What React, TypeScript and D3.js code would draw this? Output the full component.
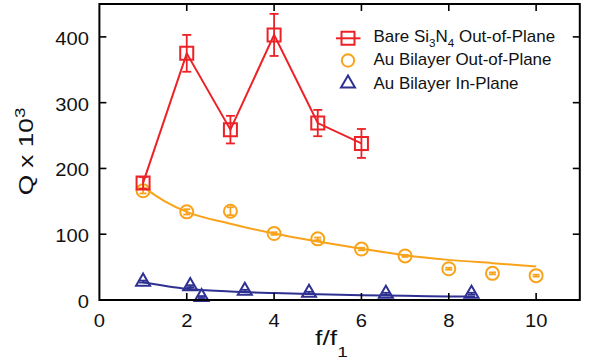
import * as d3 from "d3";

// Bare Si3N4, out-of-plane
const bareF = [1, 2, 3, 4, 5, 6];
const bareQ = [178, 375, 259, 403, 269, 238];
const bareErr = [9, 28, 21, 32, 20, 22];

// Au bilayer, out-of-plane
const outF = [1, 2, 3, 4, 5, 6, 7, 8, 9, 10];
const outQ = [166, 134, 135, 101, 93, 77.5, 67, 47.5, 40.5, 37];
const outErr = [4, 4, 6, 2, 2, 2, 1.5, 1.5, 1.5, 1.5];
const outFitF = [1, 1.5, 2, 3, 4, 5, 6, 7, 8, 9, 10];
const outFitQ = [172, 150, 134, 116, 101, 89, 78, 68, 61, 56, 51];

// Au bilayer, in-plane
const inF = [1, 2.08, 2.34, 3.33, 4.8, 6.56, 8.52];
const inQ = [28, 21, 4.5, 14, 11, 9.5, 9.5];
const inErr = [1.5, 1.5, 1.5, 1.5, 1.5, 1.5, 1.5];
const inFitF = [1, 2, 3, 4, 5, 6, 7, 8, 8.6];
const inFitQ = [27, 17, 13, 10.5, 8.6, 7.3, 6.3, 5.5, 5];

const xTicks = [0, 2, 4, 6, 8, 10];
const yTicks = [0, 100, 200, 300, 400];

const RED = "#ec2227";
const ORANGE = "#f9a31b";
const NAVY = "#2e3192";
const FONT = "'Liberation Sans', Arial, Helvetica, sans-serif";

const x = d3.scaleLinear().domain([0, 11]).range([99.4, 579.8]);
const y = d3.scaleLinear().domain([0, 450]).range([300, 4]);

const square = d3.symbol(d3.symbolSquare, 169)()!;
const triangle = d3.symbol(d3.symbolTriangle, 85)()!;

const line = d3
  .line<[number, number]>()
  .x((d) => x(d[0]))
  .y((d) => y(d[1]));
const smooth = d3
  .line<[number, number]>()
  .x((d) => x(d[0]))
  .y((d) => y(d[1]))
  .curve(d3.curveMonotoneX);

const zip = (a: number[], b: number[]) => a.map((v, i) => [v, b[i]] as [number, number]);

const ErrBars = ({ f, q, e, color, cap }: { f: number[]; q: number[]; e: number[]; color: string; cap: number }) => (
  <g stroke={color} strokeWidth={1.8} fill="none">
    {f.map((fv, i) => {
      const cx = x(fv);
      const y0 = y(q[i] - e[i]);
      const y1 = y(q[i] + e[i]);
      return (
        <g key={i}>
          <line x1={cx} x2={cx} y1={y0} y2={y1} />
          <line x1={cx - cap} x2={cx + cap} y1={y0} y2={y0} />
          <line x1={cx - cap} x2={cx + cap} y1={y1} y2={y1} />
        </g>
      );
    })}
  </g>
);

export default function App() {
  const x0 = x.range()[0];
  const x1 = x.range()[1];
  const yb = y.range()[0];
  const yt = y.range()[1];
  return (
    <svg width={600} height={362} style={{ position: "absolute", left: 0, top: 0, background: "#fff" }} fontFamily={FONT}>
      {/* fit curves */}
      <path d={smooth(zip(outFitF, outFitQ))!} fill="none" stroke={ORANGE} strokeWidth={2} />
      <path d={smooth(zip(inFitF, inFitQ))!} fill="none" stroke={NAVY} strokeWidth={2} />
      <path d={line(zip(bareF, bareQ))!} fill="none" stroke={RED} strokeWidth={2} />

      {/* in-plane triangles */}
      <ErrBars f={inF} q={inQ} e={inErr} color={NAVY} cap={4} />
      {inF.map((f, i) => (
        <path key={i} d={triangle} transform={`translate(${x(f)},${y(inQ[i])})`} fill="none" stroke={NAVY} strokeWidth={2} />
      ))}

      {/* out-of-plane circles */}
      <ErrBars f={outF} q={outQ} e={outErr} color={ORANGE} cap={3.5} />
      {outF.map((f, i) => (
        <circle key={i} cx={x(f)} cy={y(outQ[i])} r={6.5} fill="none" stroke={ORANGE} strokeWidth={2} />
      ))}

      {/* bare squares */}
      <ErrBars f={bareF} q={bareQ} e={bareErr} color={RED} cap={4.5} />
      {bareF.map((f, i) => (
        <path key={i} d={square} transform={`translate(${x(f)},${y(bareQ[i])})`} fill="none" stroke={RED} strokeWidth={2} />
      ))}

      {/* frame and ticks */}
      <rect x={x0} y={yt} width={x1 - x0} height={yb - yt} fill="none" stroke="#000" strokeWidth={2} />
      <g stroke="#000" strokeWidth={1.6}>
        {xTicks.filter((t) => t > 0).map((t) => (
          <g key={t}>
            <line x1={x(t)} x2={x(t)} y1={yb} y2={yb - 7} />
            <line x1={x(t)} x2={x(t)} y1={yt} y2={yt + 7} />
          </g>
        ))}
        {yTicks.filter((t) => t > 0).map((t) => (
          <g key={t}>
            <line x1={x0} x2={x0 + 7} y1={y(t)} y2={y(t)} />
            <line x1={x1} x2={x1 - 7} y1={y(t)} y2={y(t)} />
          </g>
        ))}
      </g>

      {/* tick labels */}
      <g fontSize={18} fill="#111">
        {xTicks.map((t) => (
          <text key={t} textAnchor="middle" transform={`translate(${x(t)},326.5) scale(1.12,1)`}>
            {t}
          </text>
        ))}
        {yTicks.map((t) => (
          <text key={t} textAnchor="end" transform={`translate(89,${y(t) + 8}) scale(1.12,1)`}>
            {t}
          </text>
        ))}
      </g>

      {/* axis titles */}
      <text fontSize={21} fill="#111" textAnchor="middle" transform="translate(33,151.5) rotate(-90) scale(1.25,1)">
        Q x 10
        <tspan fontSize={15} dy={-8}>
          3
        </tspan>
      </text>
      <text fontSize={21} fill="#111" transform="translate(315,345) scale(1.27,1)">
        f/f
        <tspan fontSize={15} dy={12}>
          1
        </tspan>
      </text>

      {/* legend */}
      <g fontSize={16} fill="#111">
        <line x1={336} x2={360.5} y1={38.3} y2={38.3} stroke={RED} strokeWidth={2} />
        <path d={square} transform="translate(348,38.3)" fill="none" stroke={RED} strokeWidth={2} />
        <text transform="translate(373.5,42) scale(1.06,1)">
          Bare Si
          <tspan fontSize={11} dy={5}>3</tspan>
          <tspan dy={-5}>N</tspan>
          <tspan fontSize={11} dy={5}>4</tspan>
          <tspan dy={-5}> Out-of-Plane</tspan>
        </text>
        <circle cx={348} cy={60.5} r={6.2} fill="none" stroke={ORANGE} strokeWidth={2} />
        <text transform="translate(373.5,65.3) scale(1.06,1)">Au Bilayer Out-of-Plane</text>
        <path d={triangle} transform="translate(348,83.5)" fill="none" stroke={NAVY} strokeWidth={2} />
        <text transform="translate(373.5,88.5) scale(1.06,1)">Au Bilayer In-Plane</text>
      </g>
    </svg>
  );
}
